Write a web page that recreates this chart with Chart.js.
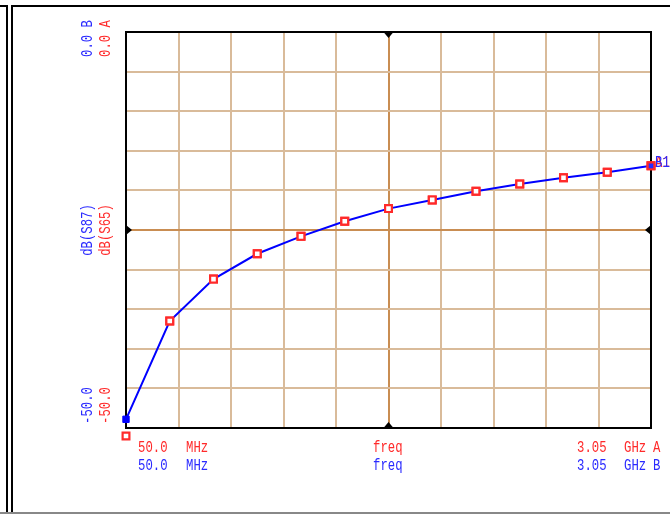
<!DOCTYPE html>
<html lang="en">
<head>
    <meta charset="UTF-8">
    <title>dB(S87) / dB(S65) vs freq</title>
    <script src="https://cdn.jsdelivr.net/npm/chart.js"></script>
    <style>
        body { margin: 0; background: #fff; }
        canvas { display: block; }
    </style>
</head>
<body>
    <canvas id="plot" width="670" height="514"></canvas>

    <script>
        // sweep points (MHz) and the two traces (dB)
        const freqMHz = [50, 300, 550, 800, 1050, 1300, 1550, 1800, 2050, 2300, 2550, 2800, 3050];
        const dbS87 = [-48.9, -36.5, -31.2, -28.0, -25.8, -23.9, -22.3, -21.2, -20.1, -19.2, -18.4, -17.7, -16.9];
        const dbS65 = [-51.0, -36.5, -31.2, -28.0, -25.8, -23.9, -22.3, -21.2, -20.1, -19.2, -18.4, -17.7, -16.9];

        // axis limits and the texts printed around the plot
        const xLimits = [50, 3050];
        const yLimits = [-50, 0];
        const yTopLabel = '0.0';
        const yBottomLabel = '-50.0';
        const xStartLabel = ['50.0', 'MHz'];
        const xEndLabel = ['3.05', 'GHz'];
        const xName = 'freq';
        const traceNames = ['dB(S65)', 'dB(S87)'];

        const RED = '#ff2a2a';
        const BLUE = '#2a2aff';
        const TAN = '#d9bb9a';
        const CENTER = '#c98d52';
        const FONT = '15px "Liberation Mono", "Courier New", monospace';

        function toPoints(ys) {
            return freqMHz.map((f, i) => ({ x: f, y: ys[i] }));
        }

        function monoText(ctx, text, x, y, color, rotate) {
            ctx.save();
            ctx.translate(x, y);
            if (rotate) ctx.rotate(-Math.PI / 2);
            ctx.scale(0.82, 1.08);
            ctx.font = FONT;
            ctx.fillStyle = color;
            ctx.textBaseline = 'alphabetic';
            ctx.textAlign = rotate === 'center' ? 'center' : 'left';
            ctx.fillText(text, 0, 0);
            ctx.restore();
        }

        const panelDecor = {
            id: 'panelDecor',
            beforeDraw(chart) {
                const ctx = chart.ctx;
                ctx.save();
                ctx.fillStyle = '#fff';
                ctx.fillRect(0, 0, chart.width, chart.height);
                ctx.strokeStyle = '#000';
                ctx.lineWidth = 2;
                ctx.beginPath();
                ctx.moveTo(0, 6); ctx.lineTo(7, 6); ctx.lineTo(7, 514);
                ctx.moveTo(670, 6); ctx.lineTo(12, 6); ctx.lineTo(12, 514);
                ctx.stroke();
                ctx.strokeStyle = '#888';
                ctx.beginPath();
                ctx.moveTo(0, 513); ctx.lineTo(670, 513);
                ctx.stroke();
                ctx.restore();
            },
            beforeDatasetsDraw(chart) {
                const ctx = chart.ctx;
                const a = chart.chartArea;
                const cx = chart.scales.x.getPixelForValue(1550);
                const cy = chart.scales.y.getPixelForValue(-25);
                ctx.save();
                ctx.strokeStyle = '#000';
                ctx.lineWidth = 2;
                ctx.strokeRect(a.left, a.top, a.right - a.left, a.bottom - a.top);
                ctx.fillStyle = '#000';
                const tri = (pts) => {
                    ctx.beginPath();
                    ctx.moveTo(pts[0], pts[1]);
                    ctx.lineTo(pts[2], pts[3]);
                    ctx.lineTo(pts[4], pts[5]);
                    ctx.closePath();
                    ctx.fill();
                };
                tri([cx - 5, a.top, cx + 5, a.top, cx, a.top + 6]);
                tri([cx - 5, a.bottom, cx + 5, a.bottom, cx, a.bottom - 6]);
                tri([a.left, cy - 5, a.left, cy + 5, a.left + 6, cy]);
                tri([a.right, cy - 5, a.right, cy + 5, a.right - 6, cy]);
                ctx.restore();
            },
            afterDatasetsDraw(chart) {
                // the S65 markers are drawn even where they fall outside the plot box
                const wide = { left: -1e4, top: -1e4, right: 1e4, bottom: 1e4 };
                chart.getDatasetMeta(0).data.forEach((p) => p.draw(chart.ctx, wide));
            },
            afterDraw(chart) {
                const ctx = chart.ctx;
                const a = chart.chartArea;
                const cy = (a.top + a.bottom) / 2;
                // vertical axis texts
                monoText(ctx, yTopLabel + ' B', 92, 57, BLUE, true);
                monoText(ctx, yTopLabel + ' A', 110, 57, RED, true);
                monoText(ctx, yBottomLabel, 92, 424, BLUE, true);
                monoText(ctx, yBottomLabel, 110, 424, RED, true);
                monoText(ctx, traceNames[1], 92, cy, BLUE, 'center');
                monoText(ctx, traceNames[0], 110, cy, RED, 'center');
                // horizontal axis texts
                const rows = [[452, RED, 'A'], [470, BLUE, 'B']];
                rows.forEach(([y, c, tag]) => {
                    monoText(ctx, xStartLabel[0], 138, y, c);
                    monoText(ctx, xStartLabel[1], 186, y, c);
                    monoText(ctx, xName, 373, y, c);
                    monoText(ctx, xEndLabel[0], 577, y, c);
                    monoText(ctx, xEndLabel[1], 624, y, c);
                    monoText(ctx, tag, 653, y, c);
                });
                // trace end markers
                const last = freqMHz.length - 1;
                const px = chart.scales.x.getPixelForValue(freqMHz[last]);
                const py = chart.scales.y.getPixelForValue(dbS87[last]);
                monoText(ctx, 'A1', px + 4, py + 1, RED);
                monoText(ctx, 'B1', px + 4, py + 1, BLUE);
            }
        };

        const gridColor = (center) => (c) => (c.tick && c.tick.value === center ? CENTER : TAN);

        new Chart(document.getElementById('plot').getContext('2d'), {
            type: 'line',
            data: {
                datasets: [
                    {
                        label: traceNames[0],
                        data: toPoints(dbS65),
                        showLine: false,
                        pointStyle: 'rect',
                        pointRadius: 4.8,
                        pointBorderWidth: 2.2,
                        pointBorderColor: RED,
                        pointBackgroundColor: (c) => (c.dataIndex === freqMHz.length - 1 ? BLUE : '#fff'),
                        clip: false,
                        order: 0
                    },
                    {
                        label: traceNames[1],
                        data: toPoints(dbS87),
                        borderColor: '#0000ff',
                        borderWidth: 2,
                        tension: 0,
                        pointStyle: 'rect',
                        pointRadius: 4.5,
                        pointBorderWidth: 1,
                        pointBorderColor: '#0000ff',
                        pointBackgroundColor: '#0000ff',
                        clip: false,
                        order: 1
                    }
                ]
            },
            options: {
                responsive: false,
                animation: false,
                events: [],
                layout: { padding: { left: 126, top: 32, right: 19, bottom: 86 } },
                plugins: { legend: { display: false }, tooltip: { enabled: false } },
                scales: {
                    x: {
                        type: 'linear',
                        min: xLimits[0],
                        max: xLimits[1],
                        ticks: { display: false, stepSize: 300 },
                        grid: { color: gridColor(1550), lineWidth: 2, drawTicks: false },
                        border: { display: false }
                    },
                    y: {
                        type: 'linear',
                        min: yLimits[0],
                        max: yLimits[1],
                        ticks: { display: false, stepSize: 5 },
                        grid: { color: gridColor(-25), lineWidth: 2, drawTicks: false },
                        border: { display: false }
                    }
                }
            },
            plugins: [panelDecor]
        });
    </script>
</body>
</html>
